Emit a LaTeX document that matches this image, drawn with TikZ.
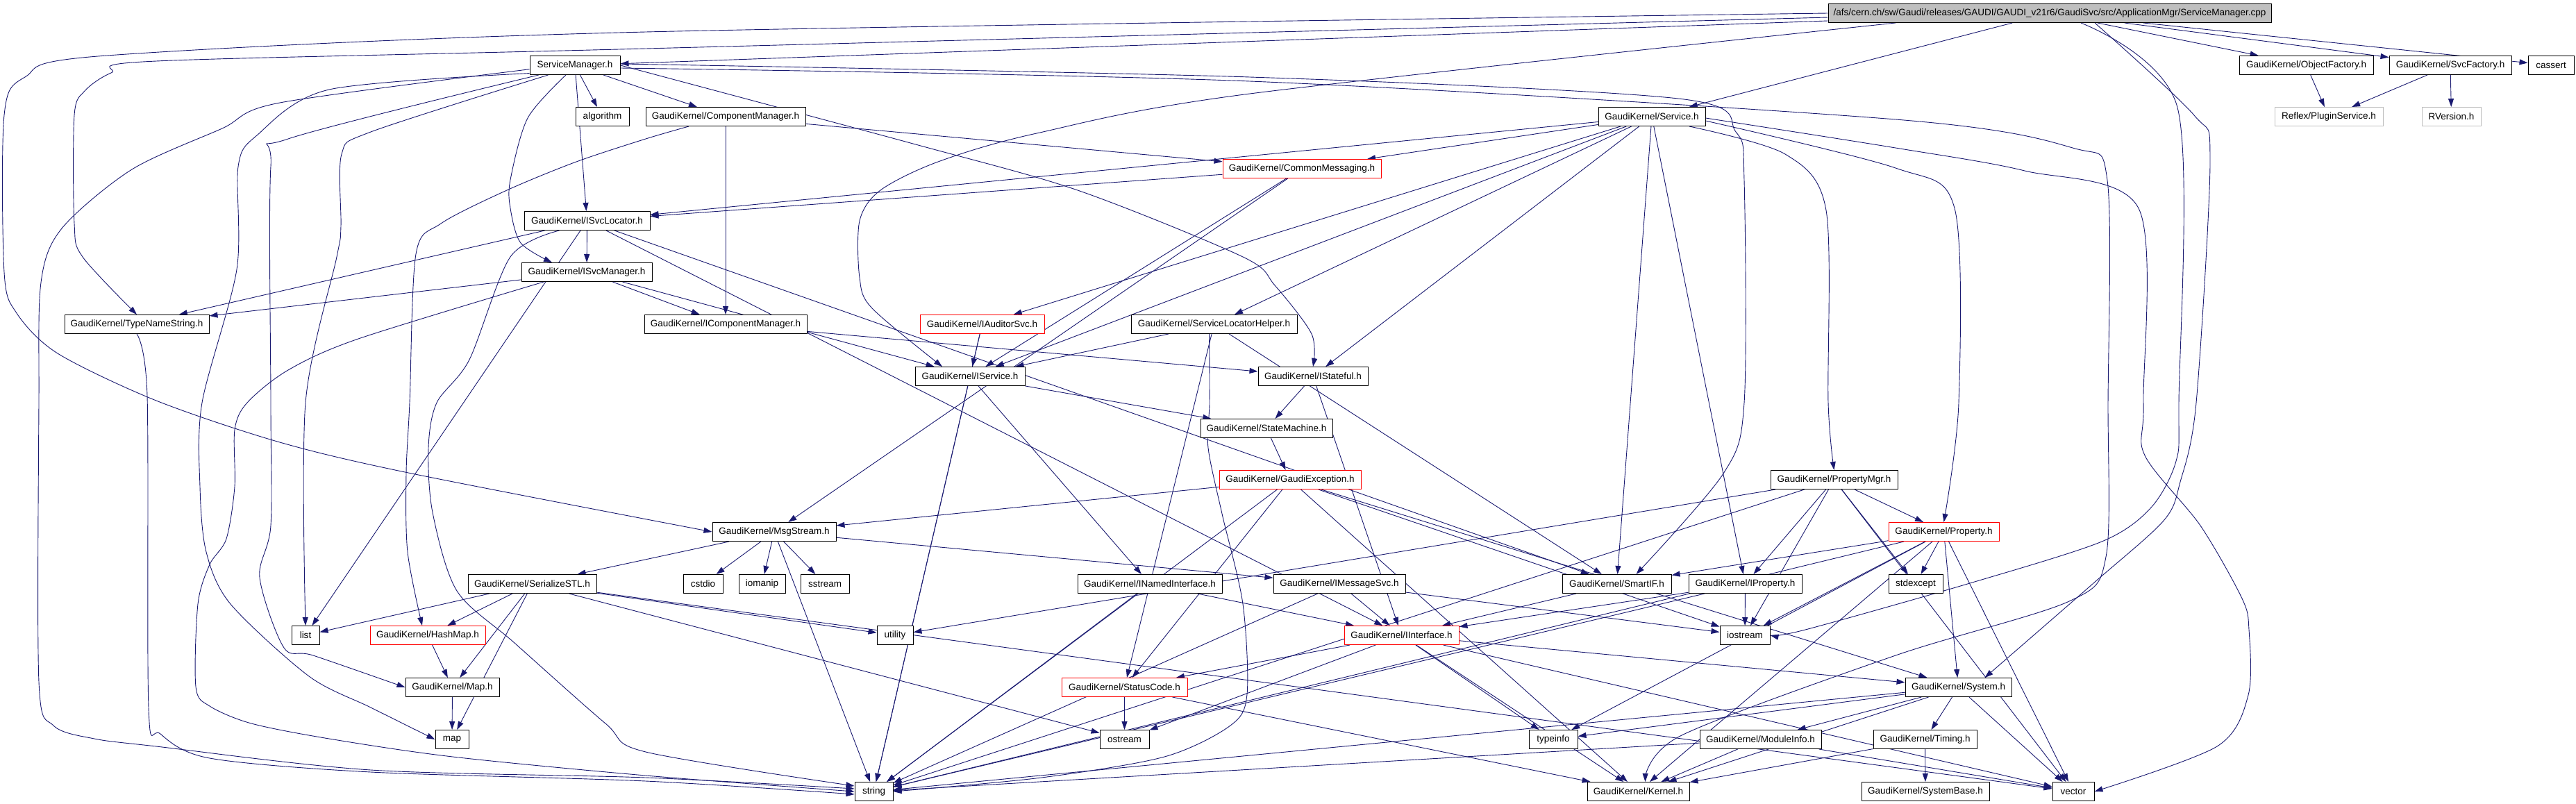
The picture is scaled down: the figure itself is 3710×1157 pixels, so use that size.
\documentclass[tikz,border=0pt]{standalone}
\usepackage{fontspec}
\setmainfont{Liberation Sans}
\usetikzlibrary{arrows.meta,backgrounds}
\definecolor{edgec}{HTML}{191970}
\definecolor{grayfill}{HTML}{BFBFBF}
\begin{document}
\begin{tikzpicture}[x=1pt,y=-1pt,
  box/.style={draw=black, fill=white, line width=1pt, minimum height=27pt, inner sep=0pt, font=\fontsize{13.5}{14}\selectfont},
  redbox/.style={box, draw=red},
  graybox/.style={box, draw=grayfill},
  rootbox/.style={box, fill=grayfill},
  dep/.style={draw=edgec, line width=0.9pt, -{Triangle[length=12pt,width=8pt]}}]
\useasboundingbox (0,0) rectangle (3710,1157);
% nodes
\node[rootbox, minimum width=638] (root) at (2952,19) {/afs/cern.ch/sw/Gaudi/releases/GAUDI/GAUDI\_v21r6/GaudiSvc/src/ApplicationMgr/ServiceManager.cpp};
\node[box, minimum width=130] (smh) at (828,94) {ServiceManager.h};
\node[box, minimum width=193] (objf) at (3321.5,94) {GaudiKernel/ObjectFactory.h};
\node[box, minimum width=176] (svcf) at (3529,94) {GaudiKernel/SvcFactory.h};
\node[box, minimum width=66] (cassert) at (3674,94) {cassert};
\node[box, minimum width=77] (algo) at (867.5,168) {algorithm};
\node[box, minimum width=230] (compmgr) at (1045,168) {GaudiKernel/ComponentManager.h};
\node[box, minimum width=154] (service) at (2379,168) {GaudiKernel/Service.h};
\node[graybox, minimum width=156] (reflex) at (3354,168) {Reflex/PluginService.h};
\node[graybox, minimum width=85] (rversion) at (3530.5,168) {RVersion.h};
\node[redbox, minimum width=228] (cmsg) at (1875,243) {GaudiKernel/CommonMessaging.h};
\node[box, minimum width=181] (isvcloc) at (845.5,318) {GaudiKernel/ISvcLocator.h};
\node[box, minimum width=188] (isvcmgr) at (845,392) {GaudiKernel/ISvcManager.h};
\node[box, minimum width=208] (tns) at (197,467) {GaudiKernel/TypeNameString.h};
\node[box, minimum width=234] (icompmgr) at (1045,467) {GaudiKernel/IComponentManager.h};
\node[redbox, minimum width=179] (iaud) at (1414.5,467) {GaudiKernel/IAuditorSvc.h};
\node[box, minimum width=239] (slh) at (1748.5,467) {GaudiKernel/ServiceLocatorHelper.h};
\node[box, minimum width=158] (iservice) at (1397,542) {GaudiKernel/IService.h};
\node[box, minimum width=158] (istateful) at (1891,542) {GaudiKernel/IStateful.h};
\node[box, minimum width=190] (statemach) at (1824,617) {GaudiKernel/StateMachine.h};
\node[redbox, minimum width=204] (gexc) at (1858,691) {GaudiKernel/GaudiException.h};
\node[box, minimum width=183] (propmgr) at (2641.5,691) {GaudiKernel/PropertyMgr.h};
\node[box, minimum width=178] (msgstream) at (1115,766) {GaudiKernel/MsgStream.h};
\node[redbox, minimum width=159] (property) at (2799.5,766) {GaudiKernel/Property.h};
\node[box, minimum width=185] (serstl) at (766.5,841) {GaudiKernel/SerializeSTL.h};
\node[box, minimum width=57] (cstdio) at (1012.5,841) {cstdio};
\node[box, minimum width=67] (iomanip) at (1097.5,841) {iomanip};
\node[box, minimum width=70] (sstream) at (1188,841) {sstream};
\node[box, minimum width=208] (inamed) at (1656,841) {GaudiKernel/INamedInterface.h};
\node[box, minimum width=190] (imsgsvc) at (1929,841) {GaudiKernel/IMessageSvc.h};
\node[box, minimum width=157] (smartif) at (2328.5,841) {GaudiKernel/SmartIF.h};
\node[box, minimum width=163] (iprop) at (2513.5,841) {GaudiKernel/IProperty.h};
\node[box, minimum width=78] (stdexcept) at (2759,841) {stdexcept};
\node[box, minimum width=40] (list) at (440,915) {list};
\node[redbox, minimum width=166] (hashmap) at (616,915) {GaudiKernel/HashMap.h};
\node[box, minimum width=52] (utility) at (1289,915) {utility};
\node[redbox, minimum width=165] (iinterface) at (2018.5,915) {GaudiKernel/IInterface.h};
\node[box, minimum width=72] (iostream) at (2513,915) {iostream};
\node[box, minimum width=135] (maph) at (651.5,990) {GaudiKernel/Map.h};
\node[redbox, minimum width=181] (statuscode) at (1619.5,990) {GaudiKernel/StatusCode.h};
\node[box, minimum width=153] (system) at (2820.5,990) {GaudiKernel/System.h};
\node[box, minimum width=48] (map) at (651,1065) {map};
\node[box, minimum width=71] (ostream) at (1619.5,1065) {ostream};
\node[box, minimum width=70] (typeinfo) at (2237,1065) {typeinfo};
\node[box, minimum width=175] (modinfo) at (2535.5,1065) {GaudiKernel/ModuleInfo.h};
\node[box, minimum width=149] (timing) at (2772.5,1065) {GaudiKernel/Timing.h};
\node[box, minimum width=55] (string) at (1258.5,1140) {string};
\node[box, minimum width=147] (kernel) at (2359.5,1140) {GaudiKernel/Kernel.h};
\node[box, minimum width=184] (sysbase) at (2773,1140) {GaudiKernel/SystemBase.h};
\node[box, minimum width=60] (vector) at (2986,1140) {vector};
\begin{scope}[on background layer]
% straight edges
\foreach \a/\b in {root/smh, root/objf, root/svcf, root/cassert, root/service,
  objf/reflex, svcf/reflex, svcf/rversion,
  smh/algo, smh/compmgr, smh/isvcloc,
  compmgr/cmsg, compmgr/icompmgr,
  service/cmsg, service/isvcloc, service/iaud, service/slh, service/iservice, service/istateful, service/iprop, service/smartif,
  cmsg/isvcloc, cmsg/iservice, cmsg/msgstream,
  isvcloc/isvcmgr, isvcloc/tns, isvcloc/list, isvcloc/smartif, isvcloc/iinterface,
  isvcmgr/tns, isvcmgr/icompmgr, isvcmgr/iservice,
  icompmgr/istateful,
  iaud/iservice, iaud/string,
  slh/iservice, slh/smartif, slh/statuscode,
  iservice/inamed, iservice/string, iservice/statemach,
  istateful/statemach, istateful/iinterface,
  statemach/gexc,
  gexc/msgstream, gexc/iostream, gexc/kernel, gexc/system, gexc/statuscode, gexc/string,
  msgstream/cstdio, msgstream/iomanip, msgstream/sstream, msgstream/serstl, msgstream/imsgsvc, msgstream/string,
  serstl/list, serstl/hashmap, serstl/maph, serstl/map, serstl/utility, serstl/ostream, serstl/vector,
  hashmap/maph, maph/map,
  inamed/iinterface, inamed/string,
  imsgsvc/iinterface, imsgsvc/iostream, imsgsvc/string,
  smartif/iinterface,
  iprop/iinterface, iprop/iostream, iprop/string,
  propmgr/iprop, propmgr/property, propmgr/stdexcept, propmgr/iostream, propmgr/utility, propmgr/vector, propmgr/string,
  property/stdexcept, property/smartif, property/iostream, property/system, property/typeinfo, property/vector, property/string, property/kernel,
  iinterface/statuscode, iinterface/ostream, iinterface/typeinfo, iinterface/kernel, iinterface/system, iinterface/vector,
  statuscode/ostream, statuscode/kernel,
  system/modinfo, system/timing, system/vector, system/typeinfo, system/kernel, system/string,
  modinfo/kernel, modinfo/vector, modinfo/string,
  timing/sysbase, timing/kernel}
  \draw[dep] (\a) -- (\b);
% curved edges
\draw[dep] plot[smooth,tension=0.5] coordinates {(root.west) (930,46) (154,80) (36,111) (6,166) (6,392) (24,451) (83,509) (225,577) (403,637) (593,682) (msgstream.west)};
\draw[dep] plot[smooth,tension=0.5] coordinates {([yshift=-6pt]root.west) (930,70) (225,88) (160,105) (122,131) (107,166) (107,322) (119,370) (tns.north)};
\draw[dep] plot[smooth,tension=0.5] coordinates {([xshift=-222pt]root.south) (1800,135) (1493,192) (1351,233) (1268,274) (1238,318) (1238,400) (1256,444) ([xshift=-40pt]iservice.north)};
\draw[dep] plot[smooth,tension=0.5] coordinates {(smh.185) (403,148) (320,185) (190,244) (89,329) (59,407) (56,580) (56,982) (77,1045) (136,1064) (225,1075) (534,1109) (930,1120) ([yshift=4pt]string.west)};
\draw[dep] plot[smooth,tension=0.5] coordinates {(smh.190) (474,129) (370,195) (343,240) (341,388) (291,580) (288,701) (297,795) (332,870) (445,974) (534,1019) (map.west)};
\draw[dep] plot[smooth,tension=0.5] coordinates {(smh.195) (415,200) (390,240) (390,580) (390,757) (374,832) (409,933) (451,944) (maph.west)};
\draw[dep] plot[smooth,tension=0.5] coordinates {(smh.200) (534,190) (492,222) (491,326) (485,370) (440,580) (list.north)};
\draw[dep] plot[smooth,tension=0.5] coordinates {([xshift=-13pt]smh.south) (760,170) (735,259) (735,300) (750,350) ([xshift=-50pt]isvcmgr.north)};
\draw[dep] plot[smooth,tension=0.5] coordinates {(smh.east) (1315,207) (1552,274) (1790,370) (1836,411) (1889,481) (istateful.north)};
\draw[dep] plot[smooth,tension=0.5] coordinates {([xshift=-53pt]compmgr.south) (930,200) (830,233) (730,274) (635,322) (599,366) (590,580) (585,682) (587,795) ([xshift=-8pt]hashmap.north)};
\draw[dep] plot[smooth,tension=0.5] coordinates {([xshift=-40pt]isvcloc.south) (735,370) (676,518) (629,580) (617,645) (623,738) (658,851) (741,926) (872,1042) (930,1083) ([yshift=8pt]string.west)};
\draw[dep] plot[smooth,tension=0.5] coordinates {([xshift=-62pt]isvcmgr.south) (516,488) (415,533) (356,580) (338,619) (338,701) (326,776) (302,813) (285,870) (282,989) (302,1017) (362,1042) (474,1064) (652,1090) (930,1117) (string.west)};
\draw[dep] plot[smooth,tension=0.5] coordinates {(tns.south) (212,570) (214,1019) (231,1057) (302,1092) (534,1112) (930,1125) ([yshift=-4pt]string.west)};
\draw[dep] plot[smooth,tension=0.5] coordinates {([xshift=65pt]root.south) (3160,166) (3183,230) (3163,580) (3140,694) (3116,750) (3015,840) ([xshift=38pt]system.north)};
\draw[dep] plot[smooth,tension=0.5] coordinates {([xshift=45pt]root.south) (3136,155) (3138,580) (3134,664) (3098,731) (3027,780) (2837,840) (2600,907) (iostream.east)};
\draw[dep] plot[smooth,tension=0.5] coordinates {([yshift=-4pt]smh.east) (1800,117) (2730,172) (2985,213) (3035,260) (3036,580) (3033,802) (2980,866) (2730,944) (2420,1060) ([xshift=10pt]kernel.north)};
\draw[dep] plot[smooth,tension=0.5] coordinates {([yshift=2pt]smh.east) (1800,111) (2417,142) (2500,190) (2512,260) (2512,580) (2482,682) ([xshift=28pt]smartif.north)};
\draw[dep] plot[smooth,tension=0.5] coordinates {([yshift=-6pt]service.east) (2730,242) (2815,300) (2821,580) (property.north)};
\draw[dep] plot[smooth,tension=0.5] coordinates {([xshift=54pt]service.south) (2571,222) (2630,303) (2633,580) (propmgr.north)};
\draw[dep] plot[smooth,tension=0.5] coordinates {([yshift=-2pt]service.east) (2730,213) (2916,246) (3080,300) (3087,580) (3089,656) (3169,757) (3229,862) (3239,907) (3238,1001) (3193,1075) (vector.east)};
\draw[dep] plot[smooth,tension=0.5] coordinates {([xshift=-7pt]slh.south) (1742,580) (1740,645) (1760,740) (1790,870) (1796,1000) (1772,1045) (1677,1090) (1500,1120) (string.east)};
\end{scope}
\end{tikzpicture}
\end{document}
